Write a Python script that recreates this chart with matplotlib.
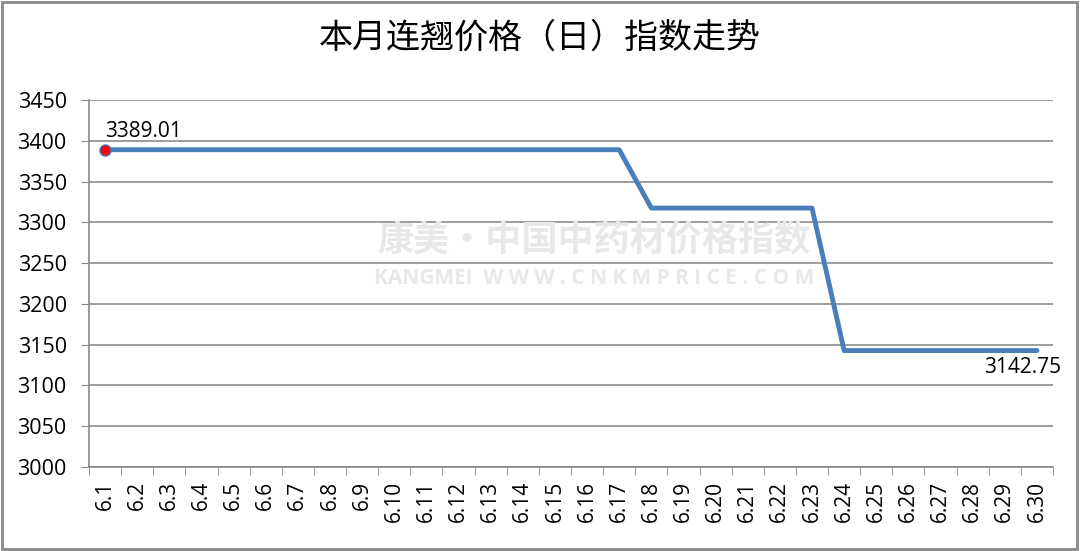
import numpy as np
import matplotlib.pyplot as plt
from matplotlib.patches import Rectangle

plt.rcParams['font.family'] = ['Open Sans', 'Noto Sans CJK SC', 'DejaVu Sans']

dates = ['6.%d' % d for d in range(1, 31)]
values = [3389.01] * 17 + [3317.5] * 6 + [3142.75] * 7
yticks = list(range(3000, 3451, 50))

fig = plt.figure(figsize=(10.8, 5.51), dpi=100)
ax = fig.add_axes([0.0824, 0.1525, 0.8926, 0.666])

x = np.arange(len(dates))
ax.plot(x, values, color='#4a7ebb', linewidth=3.5, solid_capstyle='round', zorder=3)
ax.plot(x[0], values[0], 'o', color='red', markeredgecolor='#4a7ebb', markersize=8, zorder=4)
ax.text(x[0], values[0] + 10, '%.2f' % values[0], fontsize=15, ha='left', va='bottom')
ax.text(x[-1] + 0.75, values[-1] - 8, '%.2f' % values[-1], fontsize=15, ha='right', va='top')

ax.set_xlim(-0.5, len(dates) - 0.5)
ax.set_ylim(3000, 3450)
ax.set_yticks(yticks)
ax.set_yticklabels([str(v) for v in yticks], fontsize=15.5)
ax.set_xticks(x)
ax.set_xticklabels(dates, rotation=90, fontsize=15)
ax.set_xticks(np.arange(-0.5, len(dates)), minor=True)
ax.tick_params(axis='x', which='major', length=0, pad=10)
ax.tick_params(axis='x', which='minor', length=6, color='#888888', direction='out')
ax.tick_params(axis='y', length=6, color='#888888', pad=10)
ax.grid(axis='y', color='#8c8c8c', linewidth=1.2)
ax.set_axisbelow(True)
for s in ['top', 'right']:
    ax.spines[s].set_visible(False)
for s in ['left', 'bottom']:
    ax.spines[s].set_color('#888888')
    ax.spines[s].set_linewidth(1.2)

# watermark
fig.text(0.55, 0.565, '康美·中国中药材价格指数', fontsize=26, color='#e8e8e8',
         ha='center', va='center', weight='bold', family=['Noto Sans CJK SC'], zorder=0)
fig.text(0.55, 0.495, 'KANGMEI  W W W . C N K M P R I C E . C O M', fontsize=15, color='#e8e8e8',
         ha='center', va='center', weight='bold', zorder=0)

fig.suptitle('本月连翘价格（日）指数走势', y=0.962, fontsize=24.5,
             family=['Noto Sans CJK SC'])

fig.patches.append(Rectangle((0.002, 0.003), 0.995, 0.994, transform=fig.transFigure,
                             fill=False, edgecolor='#888888', linewidth=2))

plt.savefig('out.png', dpi=100)
